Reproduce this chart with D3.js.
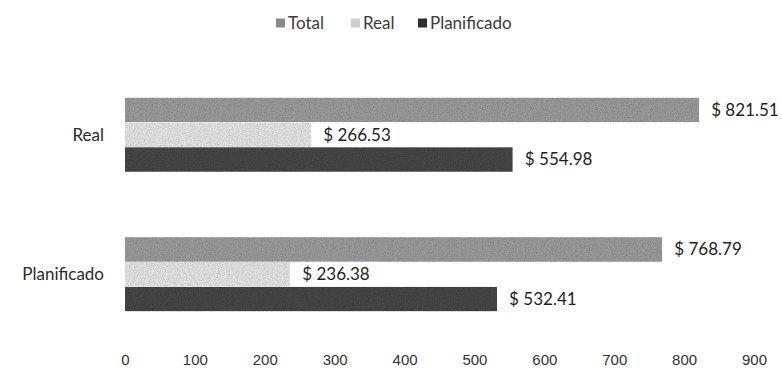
<!DOCTYPE html>
<html>
<head>
<meta charset="utf-8">
<script src="https://cdn.jsdelivr.net/npm/d3@7"></script>
<style>
  html, body { margin: 0; padding: 0; background: #fff; }
  svg { display: block; font-family: Lato, "Open Sans", sans-serif; }
  .tick text { fill: #333; font-size: 15px; }
</style>
</head>
<body>
<svg id="chart" width="782" height="377"></svg>
<script>
// Categories (top to bottom) and the series drawn inside each category
const categories = ["Real", "Planificado"];
const seriesNames = ["Total", "Real", "Planificado"];

// Series values, one per category
const totalValues = [821.51, 768.79];
const realValues = [266.53, 236.38];
const planificadoValues = [554.98, 532.41];

// Axis tick labels
const xTicks = [0, 100, 200, 300, 400, 500, 600, 700, 800, 900];

const seriesValues = { Total: totalValues, Real: realValues, Planificado: planificadoValues };
const colors = { Total: "#9a9a9a", Real: "#e4e4e4", Planificado: "#464646" };
const legendColors = { Total: "#8a8a8a", Real: "#cfcfcf", Planificado: "#2e2e2e" };

const svg = d3.select("#chart");

// Grain texture applied to the bars
const defs = svg.append("defs");
const f = defs.append("filter").attr("id", "grain")
  .attr("x", 0).attr("y", 0).attr("width", 1).attr("height", 1);
f.append("feTurbulence").attr("type", "fractalNoise").attr("baseFrequency", 0.75)
  .attr("numOctaves", 2).attr("seed", 7).attr("result", "noise");
f.append("feColorMatrix").attr("in", "noise").attr("type", "saturate").attr("values", 0).attr("result", "gray");
const ct = f.append("feComponentTransfer").attr("in", "gray").attr("result", "grayT");
["feFuncR", "feFuncG", "feFuncB"].forEach(n => ct.append(n).attr("type", "linear").attr("slope", 0.9).attr("intercept", 0.45));
ct.append("feFuncA").attr("type", "linear").attr("slope", 0).attr("intercept", 1);
f.append("feBlend").attr("in", "SourceGraphic").attr("in2", "grayT").attr("mode", "multiply").attr("result", "mix");
f.append("feComposite").attr("in", "mix").attr("in2", "SourceGraphic").attr("operator", "in");

const x = d3.scaleLinear().domain([0, 900]).range([125, 754]);
const y = d3.scaleBand().domain(categories).range([65, 344]).paddingInner(0.467).paddingOuter(0.233);
const ySub = d3.scaleBand().domain(seriesNames).range([0, y.bandwidth()]);

// Bars
const groups = svg.append("g").selectAll("g").data(categories).join("g")
  .attr("transform", d => `translate(0,${y(d)})`);

const rows = groups.selectAll("g.row")
  .data((c, i) => seriesNames.map(s => ({ series: s, value: seriesValues[s][i] })))
  .join("g").attr("class", "row");

rows.append("rect")
  .attr("x", x(0))
  .attr("y", d => ySub(d.series))
  .attr("width", d => x(d.value) - x(0))
  .attr("height", ySub.bandwidth())
  .attr("fill", d => colors[d.series])
  .attr("filter", "url(#grain)");

// Value labels with a white backing box
const fmt = d3.format(".2f");
rows.each(function(d) {
  const g = d3.select(this);
  const tx = x(d.value) + 12;
  const ty = ySub(d.series) + ySub.bandwidth() / 2;
  const t = g.append("text")
    .attr("x", tx).attr("y", ty).attr("dy", "0.35em")
    .attr("font-size", 17).attr("fill", "#1e1e1e")
    .text("$ " + fmt(d.value));
  const w = t.node().getComputedTextLength();
  g.insert("rect", "text")
    .attr("x", x(d.value)).attr("y", ySub(d.series))
    .attr("width", w + 22).attr("height", ySub.bandwidth())
    .attr("fill", "#fff");
});

// Category labels
svg.append("g").selectAll("text").data(categories).join("text")
  .attr("x", 104).attr("y", d => y(d) + y.bandwidth() / 2).attr("dy", "0.35em")
  .attr("text-anchor", "end").attr("font-size", 17).attr("fill", "#2a2a2a")
  .text(d => d);

// X axis
const xAxis = svg.append("g").attr("transform", "translate(0,350)")
  .call(d3.axisBottom(x).tickValues(xTicks).tickSize(0).tickPadding(4));
xAxis.select(".domain").remove();

// Legend
const legendItems = [
  { name: "Total", x: 276 },
  { name: "Real", x: 351 },
  { name: "Planificado", x: 418 }
];
const legend = svg.append("g").selectAll("g").data(legendItems).join("g")
  .attr("transform", d => `translate(${d.x},23)`);
legend.append("rect").attr("x", 0).attr("y", -4.5).attr("width", 9).attr("height", 9)
  .attr("fill", d => legendColors[d.name]);
legend.append("text").attr("x", 12).attr("dy", "0.35em")
  .attr("font-size", 17).attr("fill", "#3a3a3a").text(d => d.name);
</script>
</body>
</html>
